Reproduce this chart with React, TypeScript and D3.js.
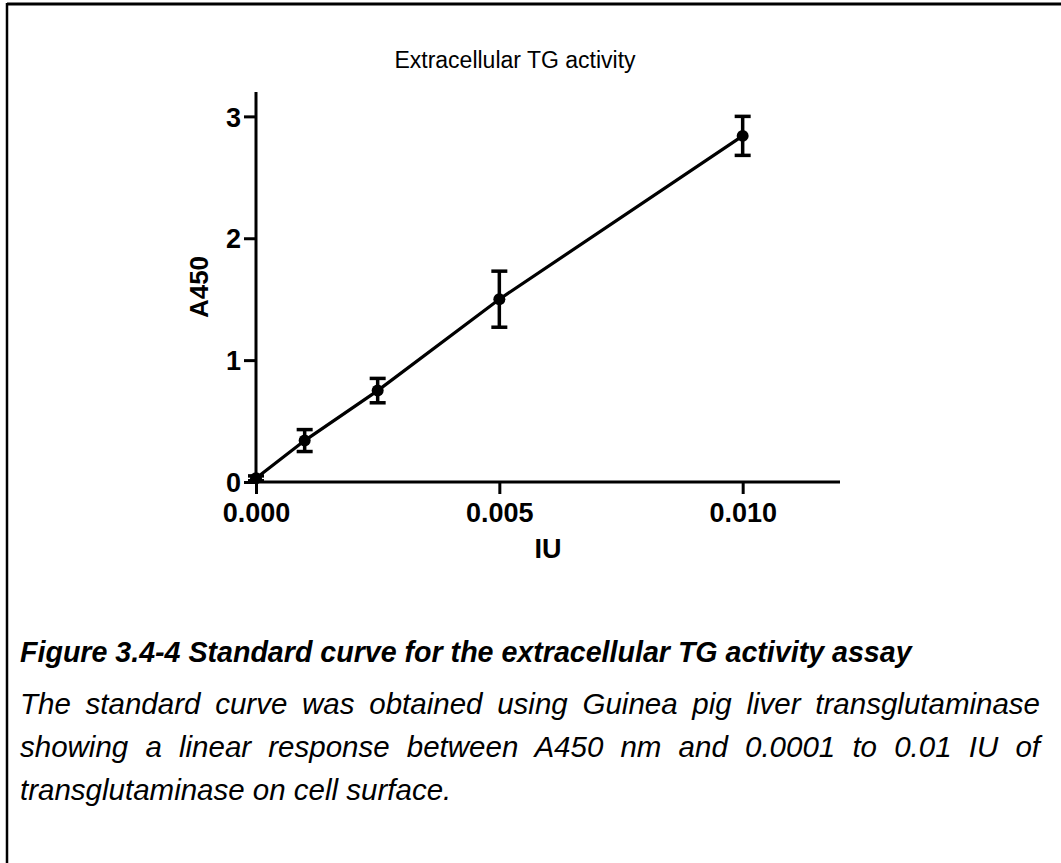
import { useEffect, useRef } from 'react';
import * as d3 from 'd3';

// data
const iu = [0, 0.001, 0.0025, 0.005, 0.01];
const a450 = [0.03, 0.34, 0.75, 1.5, 2.84];
const sd = [0.02, 0.09, 0.1, 0.23, 0.16];
const xTicks = [0, 0.005, 0.01];
const yTicks = [0, 1, 2, 3];

const title = 'Extracellular TG activity';
const captionHead = 'Figure 3.4-4 Standard curve for the extracellular TG activity assay';
const captionLines = [
  'The standard curve was obtained using Guinea pig liver transglutaminase',
  'showing a linear response between A450 nm and 0.0001 to 0.01 IU of',
  'transglutaminase on cell surface.',
];

const App = () => {
  const svgRef = useRef<SVGSVGElement>(null);
  const width = 1061;
  const height = 863;

  useEffect(() => {
    const svg = d3.select(svgRef.current);
    svg.selectAll('*').remove();
    const font = '"Liberation Sans", Arial, sans-serif';

    // frame (top and left edges only)
    svg.append('line').attr('x1', 7).attr('x2', width).attr('y1', 4).attr('y2', 4)
      .attr('stroke', '#000').attr('stroke-width', 3);
    svg.append('line').attr('x1', 7).attr('x2', 7).attr('y1', 3).attr('y2', height)
      .attr('stroke', '#000').attr('stroke-width', 2.5);

    const x = d3.scaleLinear().domain([0, 0.012]).range([256, 840]);
    const y = d3.scaleLinear().domain([0, 3.2]).range([482, 92]);

    const g = svg.append('g');

    // axes
    const xAxis = g.append('g')
      .attr('transform', `translate(0, ${y(0)})`)
      .call(d3.axisBottom(x).tickValues(xTicks).tickSize(12).tickPadding(4).tickFormat(d3.format('.3f')));
    const yAxis = g.append('g')
      .attr('transform', `translate(${x(0)}, 0)`)
      .call(d3.axisLeft(y).tickValues(yTicks).tickSize(12).tickPadding(3).tickFormat(d3.format('d')));

    [xAxis, yAxis].forEach(ax => {
      ax.select('.domain').remove();
      ax.selectAll('.tick line').attr('stroke-width', 3);
      ax.selectAll('.tick text')
        .attr('font-family', font)
        .attr('font-weight', 'bold')
        .attr('font-size', 27)
        .attr('fill', '#000');
    });
    g.append('line').attr('x1', x(0) - 1.5).attr('x2', x(0.012)).attr('y1', y(0)).attr('y2', y(0))
      .attr('stroke', '#000').attr('stroke-width', 3);
    g.append('line').attr('x1', x(0)).attr('x2', x(0)).attr('y1', y(3.2)).attr('y2', y(0))
      .attr('stroke', '#000').attr('stroke-width', 3);
    xAxis.selectAll('.tick text').attr('dy', '0.9em');
    yAxis.selectAll('.tick text').attr('dy', '0.36em');

    const pts = iu.map((v, i) => ({ x: v, y: a450[i], e: sd[i] }));

    // line through the means
    const line = d3.line<{ x: number; y: number }>().x(d => x(d.x)).y(d => y(d.y));
    g.append('path')
      .datum(pts)
      .attr('d', line)
      .attr('fill', 'none')
      .attr('stroke', '#000')
      .attr('stroke-width', 3.2);

    // error bars
    const bars = g.selectAll('.err').data(pts).join('g').attr('class', 'err');
    bars.append('line')
      .attr('x1', d => x(d.x)).attr('x2', d => x(d.x))
      .attr('y1', d => y(d.y + d.e)).attr('y2', d => y(d.y - d.e))
      .attr('stroke', '#000').attr('stroke-width', 3.5);
    bars.append('line')
      .attr('x1', d => x(d.x) - 8).attr('x2', d => x(d.x) + 8)
      .attr('y1', d => y(d.y + d.e)).attr('y2', d => y(d.y + d.e))
      .attr('stroke', '#000').attr('stroke-width', 3.5);
    bars.append('line')
      .attr('x1', d => x(d.x) - 8).attr('x2', d => x(d.x) + 8)
      .attr('y1', d => y(d.y - d.e)).attr('y2', d => y(d.y - d.e))
      .attr('stroke', '#000').attr('stroke-width', 3.5);

    g.selectAll('circle')
      .data(pts)
      .join('circle')
      .attr('cx', d => x(d.x))
      .attr('cy', d => y(d.y))
      .attr('r', 6)
      .attr('fill', '#000');

    // titles
    svg.append('text')
      .attr('x', 515).attr('y', 68)
      .attr('text-anchor', 'middle')
      .attr('font-family', font)
      .attr('font-size', 23)
      .text(title);

    svg.append('text')
      .attr('transform', 'translate(208, 287) rotate(-90)')
      .attr('text-anchor', 'middle')
      .attr('font-family', font)
      .attr('font-weight', 'bold')
      .attr('font-size', 26)
      .text('A450');

    svg.append('text')
      .attr('x', 548).attr('y', 558)
      .attr('text-anchor', 'middle')
      .attr('font-family', font)
      .attr('font-weight', 'bold')
      .attr('font-size', 27)
      .text('IU');

    // caption
    svg.append('text')
      .attr('x', 20).attr('y', 662)
      .attr('font-family', font)
      .attr('font-weight', 'bold')
      .attr('font-style', 'italic')
      .attr('font-size', 28.6)
      .text(captionHead);

    const baselines = [714, 757, 800];
    const right = 1040;
    captionLines.forEach((txt, i) => {
      const t = svg.append('text')
        .attr('x', 20).attr('y', baselines[i])
        .attr('font-family', font)
        .attr('font-style', 'italic')
        .attr('font-size', 29.5)
        .text(txt);
      // justify all but the last line
      if (i < captionLines.length - 1) {
        const node = t.node() as SVGTextElement;
        const w = node.getComputedTextLength();
        const gaps = txt.split(' ').length - 1;
        t.attr('word-spacing', (right - 20 - w) / gaps);
      }
    });
  }, []);

  return (
    <svg
      ref={svgRef}
      width={width}
      height={height}
      style={{ position: 'absolute', left: 0, top: 0, background: '#fff' }}
    ></svg>
  );
};

export default App;
